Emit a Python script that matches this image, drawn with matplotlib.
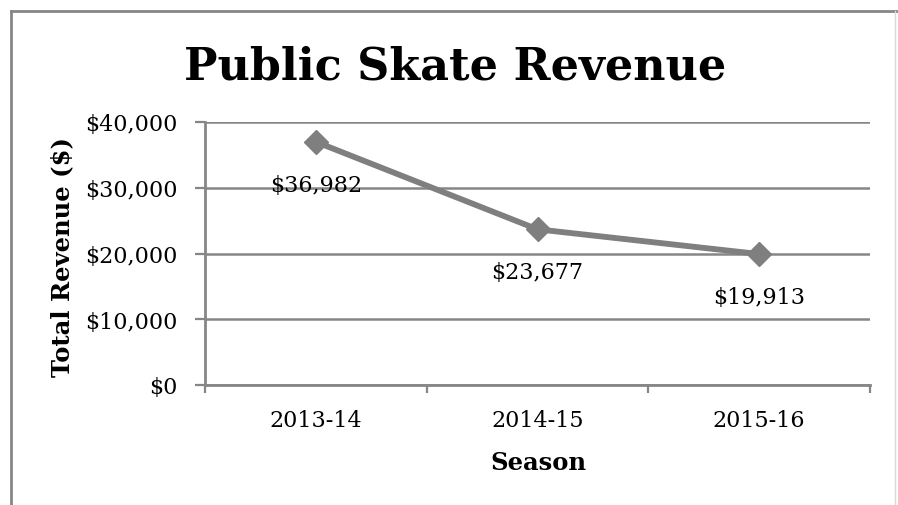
import matplotlib
matplotlib.use("Agg")
import matplotlib.pyplot as plt
from matplotlib.lines import Line2D

seasons = ["2013-14", "2014-15", "2015-16"]
revenue = [36982, 23677, 19913]
yticks = [0, 10000, 20000, 30000, 40000]
ytick_labels = ["$0", "$10,000", "$20,000", "$30,000", "$40,000"]

plt.rcParams['font.family'] = ['DejaVu Serif']
GRAY = "#868686"

W, H = 898, 506
fig = plt.figure(figsize=(W/100, H/100), dpi=100)
fig.patch.set_facecolor("white")

# outer chart frame
fig.add_artist(Line2D([11/W, 11/W], [0, 1 - 12/H], transform=fig.transFigure, color=GRAY, lw=2))
fig.add_artist(Line2D([11/W, 1], [1 - 12/H, 1 - 12/H], transform=fig.transFigure, color=GRAY, lw=2))
fig.add_artist(Line2D([895/W, 895/W], [0, 1 - 12/H], transform=fig.transFigure, color="#d9d9d9", lw=1))

ax = fig.add_axes([205/W, (H - 386)/H, (870 - 205)/W, (386 - 123)/H])
x = list(range(len(seasons)))
ax.plot(x, revenue, color="#7f7f7f", lw=4.2, marker="D", markersize=12.5,
        markeredgecolor="#7f7f7f", zorder=3, clip_on=False)

for xi, v in zip(x, revenue):
    ax.annotate(f"${v:,}", (xi, v), xytext=(0, -31), textcoords="offset points",
                ha="center", va="center", fontsize=16)

ax.set_xlim(-0.5, len(seasons) - 0.5)
ax.set_ylim(0, 40000)
ax.set_yticks(yticks)
ax.set_yticklabels(ytick_labels, fontsize=16)
ax.set_xticks([i - 0.5 for i in range(len(seasons) + 1)])
ax.set_xticklabels([])
ax.set_xticks(x, minor=True)
ax.set_xticklabels(seasons, minor=True, fontsize=16)
ax.tick_params(axis="x", which="major", length=6, width=1.6, color=GRAY, direction="out")
ax.tick_params(axis="x", which="minor", length=0, pad=17)
ax.tick_params(axis="y", length=7, width=1.6, color=GRAY, direction="out", pad=13)

ax.yaxis.grid(True, color=GRAY, lw=1.8)
ax.set_axisbelow(True)
for s in ["top", "right"]:
    ax.spines[s].set_visible(False)
for s in ["left", "bottom"]:
    ax.spines[s].set_color(GRAY)
    ax.spines[s].set_linewidth(2)

ax.set_xlabel("Season", fontsize=17.5, fontweight="bold", va="center")
ax.xaxis.set_label_coords((538 - 205)/665, (386 - 463)/263)
ax.set_ylabel("Total Revenue ($)", fontsize=17.5, fontweight="bold", va="center")
ax.yaxis.set_label_coords((62 - 205)/665, (386 - 257)/263)

fig.text(455/W, 1 - 67/H, "Public Skate Revenue", ha="center", va="center",
         fontsize=32, fontweight="bold")

fig.savefig("out.png", dpi=100, facecolor="white")
